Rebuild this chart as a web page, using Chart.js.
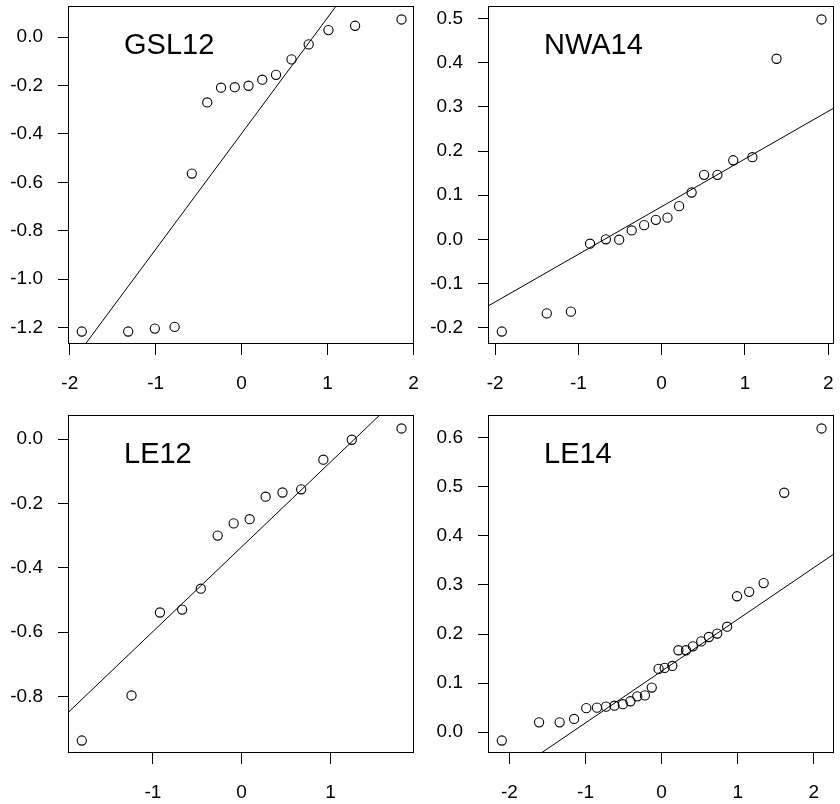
<!DOCTYPE html>
<html>
<head>
<meta charset="utf-8">
<script src="https://cdn.jsdelivr.net/npm/chart.js@4/dist/chart.umd.min.js"></script>
<style>
    html, body { margin: 0; padding: 0; background: #fff; }
    body { width: 840px; height: 804px; position: relative; overflow: hidden; }
    canvas { position: absolute; }
</style>
</head>
<body>
<canvas id="c0" width="420" height="396" style="left:0;top:0"></canvas>
<canvas id="c1" width="420" height="396" style="left:420px;top:0"></canvas>
<canvas id="c2" width="420" height="396" style="left:0;top:409px"></canvas>
<canvas id="c3" width="420" height="396" style="left:420px;top:409px"></canvas>
<script>
// sample quantiles (x = theoretical, y = sample)
const GSL12_X = [-1.86, -1.32, -1.01, -0.78, -0.58, -0.40, -0.24, -0.08, 0.08, 0.24, 0.40, 0.58, 0.78, 1.01, 1.32, 1.86];
const GSL12_Y = [-1.217, -1.217, -1.205, -1.198, -0.564, -0.270, -0.209, -0.207, -0.201, -0.176, -0.156, -0.092, -0.030, 0.029, 0.047, 0.073];
const GSL12_X_TICKS = [-2, -1, 0, 1, 2];
const GSL12_Y_TICKS = [-1.2, -1.0, -0.8, -0.6, -0.4, -0.2, 0.0];
const GSL12_LINE = [-0.398, 0.479]; // intercept, slope

const NWA14_X = [-1.92, -1.38, -1.09, -0.86, -0.67, -0.51, -0.36, -0.21, -0.07, 0.07, 0.21, 0.36, 0.51, 0.67, 0.86, 1.09, 1.38, 1.92];
const NWA14_Y = [-0.209, -0.168, -0.164, -0.010, 0.000, -0.001, 0.020, 0.032, 0.044, 0.049, 0.075, 0.106, 0.146, 0.146, 0.179, 0.186, 0.409, 0.498];
const NWA14_X_TICKS = [-2, -1, 0, 1, 2];
const NWA14_Y_TICKS = [-0.2, -0.1, 0.0, 0.1, 0.2, 0.3, 0.4, 0.5];
const NWA14_LINE = [0.074, 0.108];

const LE12_X = [-1.80, -1.24, -0.92, -0.67, -0.46, -0.27, -0.09, 0.09, 0.27, 0.46, 0.67, 0.92, 1.24, 1.80];
const LE12_Y = [-0.937, -0.797, -0.539, -0.530, -0.465, -0.300, -0.262, -0.249, -0.179, -0.166, -0.156, -0.064, -0.002, 0.033];
const LE12_X_TICKS = [-1, 0, 1];
const LE12_Y_TICKS = [-0.8, -0.6, -0.4, -0.2, 0.0];
const LE12_LINE = [-0.335, 0.2635];

const LE14_X = [-2.10, -1.61, -1.34, -1.15, -0.99, -0.85, -0.73, -0.62, -0.51, -0.41, -0.32, -0.22, -0.13, -0.04,
                0.04, 0.14, 0.22, 0.32, 0.41, 0.52, 0.62, 0.73, 0.86, 0.99, 1.15, 1.34, 1.61, 2.10];
const LE14_Y = [-0.017, 0.020, 0.020, 0.027, 0.049, 0.050, 0.052, 0.054, 0.057, 0.063, 0.073, 0.075, 0.091, 0.129,
                0.131, 0.135, 0.167, 0.167, 0.175, 0.185, 0.194, 0.201, 0.215, 0.277, 0.286, 0.304, 0.488, 0.619];
const LE14_X_TICKS = [-2, -1, 0, 1, 2];
const LE14_Y_TICKS = [0.0, 0.1, 0.2, 0.3, 0.4, 0.5, 0.6];
const LE14_LINE = [0.1245, 0.1055];

const FONT = '"Liberation Sans", Arial, Helvetica, sans-serif';

// R style range: data range padded by 4% each side
function padRange(values) {
    const lo = Math.min(...values), hi = Math.max(...values);
    const d = (hi - lo) * 0.04;
    return [lo - d, hi + d];
}

// box around plot region + panel label
const boxPlugin = {
    id: 'rbox',
    afterDraw(chart, args, opts) {
        const { ctx, chartArea } = chart;
        const l = Math.round(chartArea.left) - 0.5, t = Math.round(chartArea.top) - 0.5;
        const r = Math.round(chartArea.right) - 0.5, b = Math.round(chartArea.bottom) - 0.5;
        ctx.save();
        ctx.strokeStyle = '#000';
        ctx.lineWidth = 1;
        ctx.strokeRect(l, t, r - l, b - t);
        ctx.fillStyle = '#000';
        ctx.font = '29px ' + FONT;
        ctx.textAlign = 'left';
        ctx.textBaseline = 'alphabetic';
        ctx.fillText(opts.label, chartArea.left + 55, chartArea.top + 47);
        ctx.restore();
    }
};

function makePanel(id, label, xs, ys, xTicks, yTicks, line) {
    const [xMin, xMax] = padRange(xs);
    const [yMin, yMax] = padRange(ys);
    const points = xs.map((x, i) => ({ x: x, y: ys[i] }));
    const fit = [xMin, xMax].map(x => ({ x: x, y: line[0] + line[1] * x }));

    new Chart(document.getElementById(id), {
        type: 'scatter',
        data: {
            datasets: [{
                type: 'line',
                data: fit,
                borderColor: '#000',
                borderWidth: 1,
                pointRadius: 0,
                fill: false,
                clip: 0
            }, {
                data: points,
                pointStyle: 'circle',
                pointRadius: 4.6,
                pointHoverRadius: 4.6,
                pointBorderWidth: 1.1,
                pointBorderColor: '#000',
                pointBackgroundColor: 'rgba(0,0,0,0)',
                clip: false
            }]
        },
        plugins: [boxPlugin],
        options: {
            responsive: false,
            animation: false,
            devicePixelRatio: 1,
            events: [],
            layout: { padding: { top: 7, right: 2, left: 0, bottom: 0 } },
            plugins: {
                legend: { display: false },
                tooltip: { enabled: false },
                rbox: { label: label }
            },
            scales: {
                x: {
                    type: 'linear',
                    min: xMin,
                    max: xMax,
                    border: { display: false },
                    grid: { drawOnChartArea: false, drawTicks: true, tickLength: 11, tickColor: '#000', lineWidth: 1 },
                    afterBuildTicks: axis => { axis.ticks = xTicks.map(v => ({ value: v })); },
                    afterFit: axis => { axis.height = 52; axis.paddingLeft = 0; axis.paddingRight = 0; },
                    ticks: {
                        autoSkip: false,
                        maxRotation: 0,
                        padding: 17,
                        color: '#000',
                        font: { family: FONT, size: 19 },
                        callback: v => String(v)
                    }
                },
                y: {
                    type: 'linear',
                    min: yMin,
                    max: yMax,
                    border: { display: false },
                    grid: { drawOnChartArea: false, drawTicks: true, tickLength: 11, tickColor: '#000', lineWidth: 1 },
                    afterBuildTicks: axis => { axis.ticks = yTicks.map(v => ({ value: v })); },
                    afterFit: axis => { axis.width = 69; axis.paddingTop = 0; axis.paddingBottom = 0; },
                    ticks: {
                        autoSkip: false,
                        padding: 15,
                        color: '#000',
                        font: { family: FONT, size: 19 },
                        callback: v => v.toFixed(1)
                    }
                }
            }
        }
    });
}

document.addEventListener('DOMContentLoaded', () => {
    makePanel('c0', 'GSL12', GSL12_X, GSL12_Y, GSL12_X_TICKS, GSL12_Y_TICKS, GSL12_LINE);
    makePanel('c1', 'NWA14', NWA14_X, NWA14_Y, NWA14_X_TICKS, NWA14_Y_TICKS, NWA14_LINE);
    makePanel('c2', 'LE12', LE12_X, LE12_Y, LE12_X_TICKS, LE12_Y_TICKS, LE12_LINE);
    makePanel('c3', 'LE14', LE14_X, LE14_Y, LE14_X_TICKS, LE14_Y_TICKS, LE14_LINE);
});
</script>
</body>
</html>
